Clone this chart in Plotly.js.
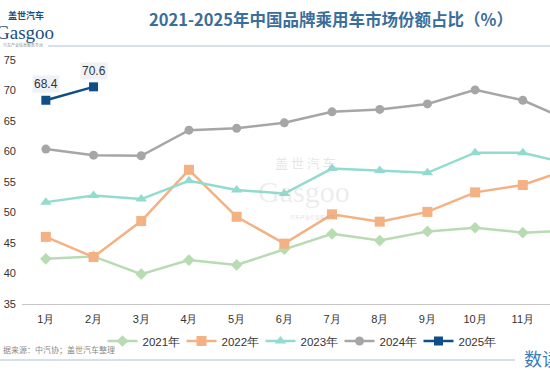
<!DOCTYPE html>
<html>
<head>
<meta charset="utf-8">
<script src="https://cdn.plot.ly/plotly-3.0.1.min.js"></script>
<style>html,body{margin:0;padding:0;background:#fff;}#chart{width:550px;height:378px;}</style>
</head>
<body>
<div id="chart"></div>
<script>
const months = ['1月','2月','3月','4月','5月','6月','7月','8月','9月','10月','11月','12月'];
const y2021 = [42.4, 42.8, 39.9, 42.2, 41.4, 44.0, 46.5, 45.4, 46.9, 47.5, 46.7, 47.0];
const y2022 = [46.0, 42.7, 48.6, 57.0, 49.3, 44.9, 49.7, 48.5, 50.1, 53.3, 54.5, 57.2];
const y2023 = [51.7, 52.8, 52.2, 55.2, 53.7, 53.1, 57.2, 56.9, 56.5, 59.8, 59.8, 57.9];
const y2024 = [60.4, 59.4, 59.3, 63.5, 63.8, 64.7, 66.5, 66.9, 67.8, 70.1, 68.4, 65.0];
const y2025 = [68.4, 70.6];
const seriesNames = ['2021年','2022年','2023年','2024年','2025年'];

const traces = [
  {name: seriesNames[0], x: months, y: y2021, color: '#b8dcb2', symbol: 'diamond', size: 9},
  {name: seriesNames[1], x: months, y: y2022, color: '#f4b183', symbol: 'square', size: 10},
  {name: seriesNames[2], x: months, y: y2023, color: '#92dbcf', symbol: 'triangle-up', size: 10},
  {name: seriesNames[3], x: months, y: y2024, color: '#a6a6a6', symbol: 'circle', size: 9},
  {name: seriesNames[4], x: months.slice(0, y2025.length), y: y2025, color: '#0f4f86', symbol: 'square', size: 9}
].map(s => ({
  type: 'scatter', mode: 'lines+markers', name: s.name, x: s.x, y: s.y,
  line: {color: s.color, width: 2.5},
  marker: {color: s.color, symbol: s.symbol, size: s.size},
  cliponaxis: true, hoverinfo: 'skip'
}));

const labelAnns = y2025.map((v, i) => ({
  x: months[i], y: v, xref: 'x', yref: 'y', text: v.toFixed(1), showarrow: false,
  yshift: 16, bgcolor: '#eef1f5', borderpad: 1,
  font: {family: 'Liberation Sans, Arial, sans-serif', size: 12, color: '#333'}
}));

// pixel -> paper helpers
const L = 22, W = 528, B = 304, H = 244;
const px = v => (v - L) / W;
const py = v => (B - v) / H;

const textAnns = [
  {x: px(6), y: py(15), text: '<b>盖世汽车</b>', xanchor: 'left', font: {family: 'Noto Sans CJK SC', size: 9, color: '#1d4f80'}},
  {x: px(56), y: py(32), text: 'Gasgoo', xanchor: 'right', font: {family: 'Liberation Serif, serif', size: 19, color: '#1d4f80'}},
  {x: px(1), y: py(45), text: '汽车产业信息服务平台', xanchor: 'left', font: {family: 'Noto Sans CJK SC', size: 4, color: '#888'}},
  {x: px(1), y: py(349), text: '据来源：中汽协；盖世汽车整理', xanchor: 'left', font: {family: 'Noto Sans CJK SC', size: 8, color: '#8a8a8a'}},
  {x: px(522), y: py(358), text: '数读', xanchor: 'left', font: {family: 'Noto Sans CJK SC', size: 18, color: '#3a7bbf'}},
  {x: px(305), y: py(162), text: '盖 世 汽 车', xanchor: 'center', font: {family: 'Noto Sans CJK SC', size: 13, color: 'rgba(180,180,180,0.35)'}},
  {x: px(304), y: py(192), text: 'Gasgoo', xanchor: 'center', font: {family: 'Liberation Serif, serif', size: 30, color: 'rgba(180,180,180,0.25)'}},
  {x: px(315), y: py(217), text: '汽车产业信息服务平台', xanchor: 'center', font: {family: 'Noto Sans CJK SC', size: 5, color: 'rgba(160,160,160,0.4)'}}
].map(a => Object.assign({xref: 'paper', yref: 'paper', showarrow: false, yanchor: 'middle'}, a));

const layout = {
  width: 550, height: 378,
  margin: {l: L, r: 0, t: 60, b: 74},
  paper_bgcolor: '#fff', plot_bgcolor: '#fff',
  title: {
    text: '<b>2021-2025年中国品牌乘用车市场份额占比（%）</b>',
    x: 331 / 550, xref: 'container', xanchor: 'center',
    y: 1 - 20 / 378, yref: 'container', yanchor: 'middle',
    font: {family: 'Noto Sans CJK SC', size: 16.5, color: '#3b6e9a'}
  },
  xaxis: {
    type: 'category', categoryarray: months, range: [-0.5, 10.57],
    showgrid: false, zeroline: false, showline: true, linecolor: '#c6c6c6', linewidth: 1,
    ticks: '', ticklabelstandoff: 5,
    tickfont: {family: 'Liberation Sans, Arial, sans-serif', size: 11, color: '#333'},
    fixedrange: true
  },
  yaxis: {
    range: [35, 75], tickvals: [35, 40, 45, 50, 55, 60, 65, 70, 75],
    showgrid: false, zeroline: false, showline: false, ticks: '', ticklabelstandoff: 5,
    tickfont: {family: 'Liberation Sans, Arial, sans-serif', size: 11, color: '#333'},
    fixedrange: true
  },
  showlegend: true,
  legend: {
    orientation: 'h', x: px(300), xanchor: 'center', y: py(341), yanchor: 'middle',
    itemwidth: 30, entrywidth: 34, entrywidthmode: 'pixels',
    font: {family: 'Liberation Sans, Arial, sans-serif', size: 11.5, color: '#333'},
    bgcolor: 'rgba(0,0,0,0)'
  },
  shapes: [
    {type: 'line', xref: 'paper', yref: 'paper', x0: px(48), x1: px(550), y0: py(46), y1: py(46), line: {color: '#a9c1d5', width: 1}},
    {type: 'line', xref: 'paper', yref: 'paper', x0: px(0), x1: px(515), y0: py(360), y1: py(360), line: {color: '#a9c1d5', width: 1}}
  ],
  annotations: labelAnns.concat(textAnns)
};

Plotly.newPlot('chart', traces, layout, {displayModeBar: false, staticPlot: true});
</script>
</body>
</html>
